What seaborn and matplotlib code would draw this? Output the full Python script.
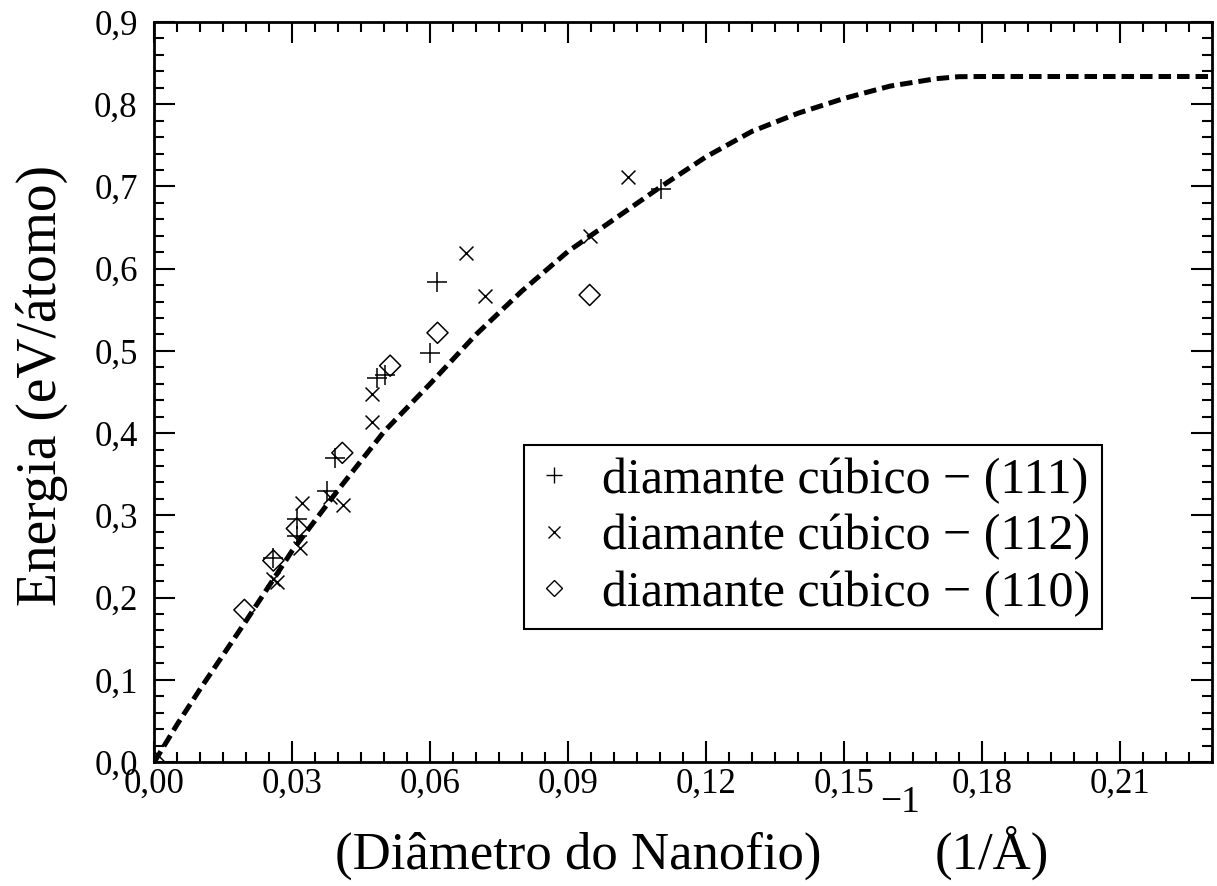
import numpy as np
import pandas as pd
import seaborn as sns
import matplotlib
matplotlib.use("Agg")
import matplotlib.pyplot as plt
from matplotlib.lines import Line2D
from matplotlib.ticker import MultipleLocator, FuncFormatter

# ---- data -------------------------------------------------------------
# (111) nanowires
x_111 = [0.0259, 0.0310, 0.0310, 0.0375, 0.0393, 0.0484, 0.0502, 0.0600, 0.0614, 0.1103]
y_111 = [0.248, 0.296, 0.275, 0.329, 0.370, 0.467, 0.471, 0.497, 0.584, 0.697]
# (112) nanowires
x_112 = [0.0259, 0.0266, 0.0317, 0.0321, 0.0382, 0.0411, 0.0473, 0.0473, 0.0679, 0.0719, 0.0947, 0.1031]
y_112 = [0.222, 0.219, 0.260, 0.315, 0.322, 0.312, 0.413, 0.448, 0.619, 0.567, 0.640, 0.712]
# (110) nanowires
x_110 = [0.0000, 0.0196, 0.0259, 0.0310, 0.0409, 0.0513, 0.0616, 0.0947]
y_110 = [0.000, 0.185, 0.245, 0.284, 0.376, 0.482, 0.522, 0.568]
# fitted curve
x_fit = [0.000, 0.005, 0.010, 0.020, 0.030, 0.040, 0.050, 0.060, 0.070, 0.080, 0.090,
         0.100, 0.110, 0.120, 0.130, 0.140, 0.150, 0.160, 0.170, 0.175, 0.180, 0.230]
y_fit = [0.000, 0.046, 0.089, 0.172, 0.257, 0.331, 0.402, 0.460, 0.520, 0.573, 0.621,
         0.660, 0.699, 0.736, 0.767, 0.789, 0.807, 0.822, 0.831, 0.8335, 0.8337, 0.8337]

labels = ["diamante cúbico \u2212 (111)", "diamante cúbico \u2212 (112)", "diamante cúbico \u2212 (110)"]

# ---- style ------------------------------------------------------------
sns.set_theme(style="white")
plt.rcParams["font.family"] = ["Liberation Serif", "DejaVu Serif"]
plt.rcParams["axes.unicode_minus"] = True
plt.rcParams["text.color"] = "black"
plt.rcParams["xtick.color"] = "black"
plt.rcParams["ytick.color"] = "black"
plt.rcParams["axes.labelcolor"] = "black"

W, H = 1217, 886
fig = plt.figure(figsize=(W / 100, H / 100), dpi=100)
ax = fig.add_axes([154.3 / W, 1 - 762 / H, (1211.7 - 154.3) / W, (762 - 22) / H])

# dashed fit
sns.lineplot(x=x_fit, y=y_fit, ax=ax, color="black", lw=3.6, sort=False,
             estimator=None)
ax.lines[-1].set_linestyle((0, (2.5, 1.2)))
ax.lines[-1].set_dash_capstyle("butt")

# point series
sns.scatterplot(x=x_111, y=y_111, ax=ax, marker="+", s=210, color="black",
                linewidth=1.1, zorder=3)
sns.scatterplot(x=x_112, y=y_112, ax=ax, marker="x", s=100, color="black",
                linewidth=1.1, zorder=3)
sns.scatterplot(x=x_110, y=y_110, ax=ax, marker="D", s=115, zorder=3,
                facecolor="none", edgecolor="black", linewidth=1.1)

# ---- axes -------------------------------------------------------------
ax.set_xlim(0, 0.23)
ax.set_ylim(0, 0.9)
ax.xaxis.set_major_locator(MultipleLocator(0.03))
ax.xaxis.set_minor_locator(MultipleLocator(0.005))
ax.yaxis.set_major_locator(MultipleLocator(0.1))
ax.yaxis.set_minor_locator(MultipleLocator(0.02))
ax.xaxis.set_major_formatter(FuncFormatter(lambda v, p: f"{v:.2f}".replace(".", ",")))
ax.yaxis.set_major_formatter(FuncFormatter(lambda v, p: f"{v:.1f}".replace(".", ",")))
ax.set_xticks([0.00, 0.03, 0.06, 0.09, 0.12, 0.15, 0.18, 0.21])

for sp in ax.spines.values():
    sp.set_visible(True)
    sp.set_color("black")
    sp.set_linewidth(2)

ax.tick_params(which="both", direction="in", top=True, right=True,
               bottom=True, left=True, color="black", width=1.5)
ax.tick_params(which="major", length=15)
ax.tick_params(which="minor", length=7.5)
ax.tick_params(axis="x", which="major", labelsize=25, pad=4)
ax.tick_params(axis="y", which="major", labelsize=25, pad=12)
ax.set_xlabel("")
ax.set_ylabel("")

# axis titles
fig.text(42 / W, 1 - 385 / H, "Energia (eV/átomo)", rotation=90,
         ha="center", va="center", fontsize=40)
fig.text(578 / W, 1 - 869 / H, "(Diâmetro do Nanofio)", ha="center",
         va="baseline", fontsize=38)
fig.text(900 / W, 1 - 812 / H, "\u22121", ha="center", va="baseline", fontsize=27)
fig.text(992 / W, 1 - 869 / H, "(1/Å)", ha="center", va="baseline", fontsize=38)

# legend
handles = [
    Line2D([], [], ls="none", marker="+", ms=12, mew=1.0, color="black"),
    Line2D([], [], ls="none", marker="x", ms=8, mew=1.0, color="black"),
    Line2D([], [], ls="none", marker="D", ms=8.5, mew=1.0, mfc="none", mec="black"),
]
leg = ax.legend(handles, labels, loc="upper left", bbox_to_anchor=(0.3497, 0.4284),
                fontsize=36, frameon=True, fancybox=False, framealpha=1,
                edgecolor="black", handlelength=0.7, handletextpad=0.6,
                borderpad=0.25, labelspacing=0.2, borderaxespad=0)
leg.get_frame().set_linewidth(1.5)

fig.savefig("out.png", dpi=100)
